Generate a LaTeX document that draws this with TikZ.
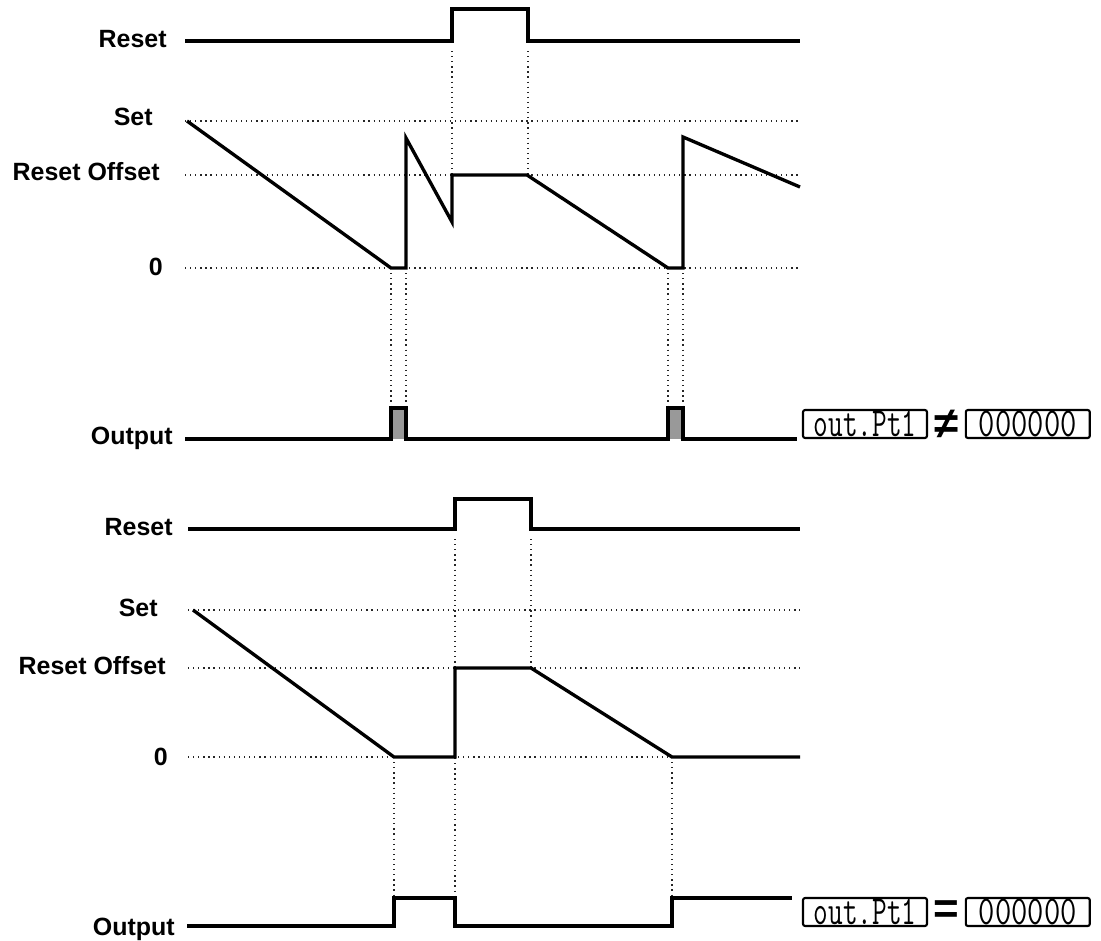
\documentclass[tikz,border=0pt]{standalone}
\usepackage{fontspec}
\setmainfont{Liberation Sans}
\usetikzlibrary{positioning}
\tikzstyle{wave} = [line width=1.9pt, line join=miter]
\newcommand{\segtext}[2][1]{\scalebox{#1}[1.3]{#2}}

\begin{document}
\begin{tikzpicture}[
        x=0.02cm, y=-0.02cm,
        lvl/.style    ={font=\bfseries\fontsize{14.2}{16}\selectfont, anchor=base east, inner sep=0pt},
        guide/.style  ={black!85, line width=0.7pt, dash pattern=on 0.7pt off 2.2pt},
        pulse/.style  ={fill=black!40},
        dispbox/.style={draw, line width=1.2pt, rounded corners=1.2pt, inner sep=0pt,
                        minimum width=2.48cm, minimum height=0.56cm,
                        font=\ttfamily\fontsize{18}{18}\selectfont},
        relop/.style  ={inner sep=0pt, minimum width=0.72cm, font=\bfseries\fontsize{25}{25}\selectfont}
    ]
    \useasboundingbox (0,0) rectangle (1101,940);

    % --- upper diagram: labels ---
    \node[lvl] (rstA)  at (167,47)  {Reset};
    \node[lvl] (setA)  at (153,125) {Set};
    \node[lvl] (ofsA)  at (160,180) {Reset Offset};
    \node[lvl] (zeroA) at (163,275) {0};
    \node[lvl] (outA)  at (173,444) {Output};

    % --- upper diagram: guides ---
    \draw[guide] (185,121) -- (800,121);
    \draw[guide] (185,175) -- (800,175);
    \draw[guide] (185,268) -- (800,268);
    \draw[guide] (452,51) -- (452,175);
    \draw[guide] (528,51) -- (528,175);
    \foreach \gx in {391,406,668,683}
        \draw[guide] (\gx,268) -- (\gx,408);

    % --- upper diagram: signals ---
    \draw[wave] (185,41) -- (452,41) -- (452,9) -- (528,9) -- (528,41) -- (800,41);
    \draw[wave] (187,121) -- (391,268) -- (406,268) -- (406,138) -- (452,222)
                -- (452,175) -- (527,175) -- (668,268) -- (683,268) -- (683,137) -- (800,187);
    \fill[pulse] (391,408) rectangle (406,439);
    \fill[pulse] (668,408) rectangle (683,439);
    \draw[wave] (185,439) -- (391,439) -- (391,408) -- (406,408) -- (406,439)
                -- (668,439) -- (668,408) -- (683,408) -- (683,439) -- (797,439);

    \node[dispbox] (parA) at (865,424) {\segtext[0.9]{out.Pt1}};
    \node[relop, right=0pt of parA] (neqA) {≠};
    \node[dispbox, right=0pt of neqA] (valA) {\segtext{000000}};

    % --- lower diagram: labels ---
    \node[lvl] (rstB)  at (173,535) {Reset};
    \node[lvl] (setB)  at (158,616) {Set};
    \node[lvl] (ofsB)  at (166,674) {Reset Offset};
    \node[lvl] (zeroB) at (168,765) {0};
    \node[lvl] (outB)  at (175,935) {Output};

    % --- lower diagram: guides ---
    \draw[guide] (188,610) -- (800,610);
    \draw[guide] (188,668) -- (800,668);
    \draw[guide] (188,757) -- (800,757);
    \draw[guide] (455,539) -- (455,898);
    \draw[guide] (531,539) -- (531,668);
    \draw[guide] (394,757) -- (394,898);
    \draw[guide] (672,757) -- (672,898);

    % --- lower diagram: signals ---
    \draw[wave] (188,529) -- (455,529) -- (455,499) -- (531,499) -- (531,529) -- (800,529);
    \draw[wave] (193,610) -- (394,757) -- (455,757) -- (455,668) -- (531,668)
                -- (672,757) -- (800,757);
    \draw[wave] (187,926) -- (394,926) -- (394,898) -- (455,898) -- (455,926)
                -- (672,926) -- (672,898) -- (792,898);

    \node[dispbox] (parB) at (865,912) {\segtext[0.9]{out.Pt1}};
    \node[relop, right=0pt of parB] (eqB) {=};
    \node[dispbox, right=0pt of eqB] (valB) {\segtext{000000}};

\end{tikzpicture}
\end{document}
